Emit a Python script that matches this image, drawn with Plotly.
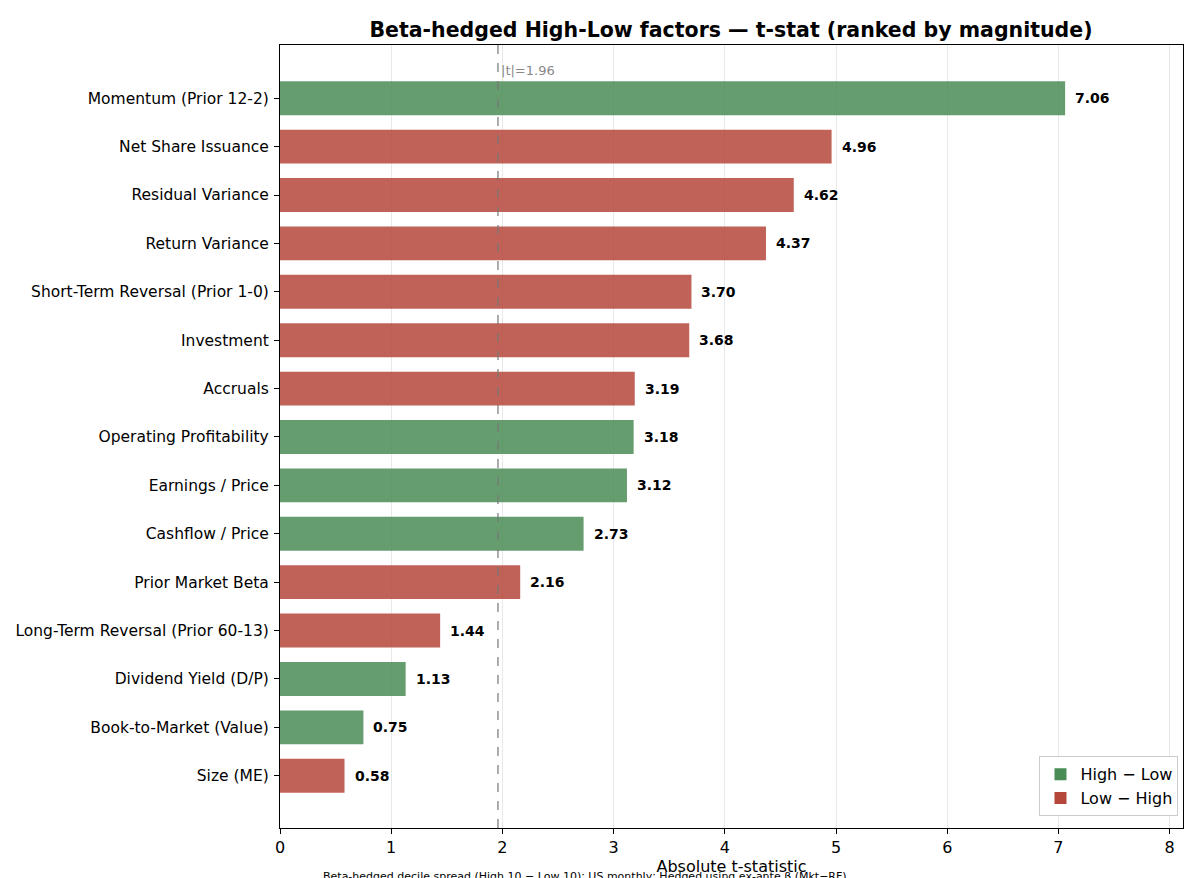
import plotly.graph_objects as go

factors = [
    "Momentum (Prior 12-2)", "Net Share Issuance", "Residual Variance",
    "Return Variance", "Short-Term Reversal (Prior 1-0)", "Investment",
    "Accruals", "Operating Profitability", "Earnings / Price",
    "Cashflow / Price", "Prior Market Beta", "Long-Term Reversal (Prior 60-13)",
    "Dividend Yield (D/P)", "Book-to-Market (Value)", "Size (ME)",
]
tstats = [7.06, 4.96, 4.62, 4.37, 3.70, 3.68, 3.19, 3.18, 3.12, 2.73,
          2.16, 1.44, 1.13, 0.75, 0.58]
direction = ["H", "L", "L", "L", "L", "L", "L", "H", "H", "H",
             "L", "L", "H", "H", "L"]
threshold = 1.96
x_ticks = [0, 1, 2, 3, 4, 5, 6, 7, 8]

GREEN = "#4a8c56"
RED = "#b5463a"
FONT = "DejaVu Sans"

fig = go.Figure()
for code, name, color in [("H", "High \u2212 Low", GREEN), ("L", "Low \u2212 High", RED)]:
    ys = [f for f, d in zip(factors, direction) if d == code]
    xs = [t for t, d in zip(tstats, direction) if d == code]
    fig.add_trace(go.Bar(
        x=xs, y=ys, orientation="h", name=name,
        marker=dict(color=color, opacity=0.85, line=dict(width=0)),
        width=0.7,
    ))

for f, t in zip(factors, tstats):
    fig.add_annotation(x=t, y=f, text=f"<b>{t:.2f}</b>", showarrow=False,
                       xanchor="left", xshift=8, font=dict(size=14, color="black", family=FONT))

fig.add_shape(type="line", x0=threshold, x1=threshold, y0=0, y1=1, yref="paper",
              line=dict(color="#777777", width=1.2, dash="dash"))
fig.add_annotation(x=threshold, y=1, yref="paper", yshift=-25, text=f"|t|={threshold}",
                   showarrow=False, xanchor="left", yanchor="middle", xshift=1,
                   font=dict(size=13, color="#888888", family=FONT))

fig.add_annotation(x=0.338, xref="paper", y=0, yref="paper", yshift=-48,
                   text="Beta-hedged decile spread (High 10 \u2212 Low 10); US monthly; Hedged using ex-ante \u03b2 (Mkt\u2212RF)",
                   showarrow=False, xanchor="center", yanchor="middle",
                   font=dict(size=11, color="black", family=FONT))

n = len(factors)
fig.update_layout(
    width=1192, height=870,
    margin=dict(l=272, r=17, t=37, b=50, autoexpand=False),
    paper_bgcolor="white", plot_bgcolor="white",
    font=dict(family=FONT, size=15.5, color="black"),
    title=dict(text="<b>Beta-hedged High-Low factors \u2014 t-stat (ranked by magnitude)</b>",
               x=(731 - 8) / 1192, xanchor="center", y=1 - 22 / 870, yanchor="middle",
               font=dict(size=20.5, family=FONT, color="black")),
    barmode="overlay",
    legend=dict(x=0.995, xanchor="right", y=0.015, yanchor="bottom",
                bgcolor="white", bordercolor="#cccccc", borderwidth=1,
                font=dict(size=16, family=FONT), traceorder="normal"),
    xaxis=dict(range=[0, 8.12], tickvals=x_ticks, showgrid=True, gridcolor="#e8e8e8",
               gridwidth=1, zeroline=False, showline=True, linecolor="black",
               linewidth=1.2, mirror=True, ticks="outside", ticklen=5,
               tickcolor="black", tickfont=dict(size=16), automargin=False,
               title=dict(text="Absolute t-statistic", font=dict(size=16), standoff=4)),
    yaxis=dict(categoryorder="array", categoryarray=factors, type="category",
               range=[n - 1 + 1.08, -1.1], showgrid=False, zeroline=False,
               showline=True, linecolor="black", linewidth=1.2, mirror=True,
               ticks="outside", ticklen=5, tickcolor="black", tickfont=dict(size=15.5),
               automargin=False, ticklabelstandoff=2),
)

fig.write_html("out.html")
